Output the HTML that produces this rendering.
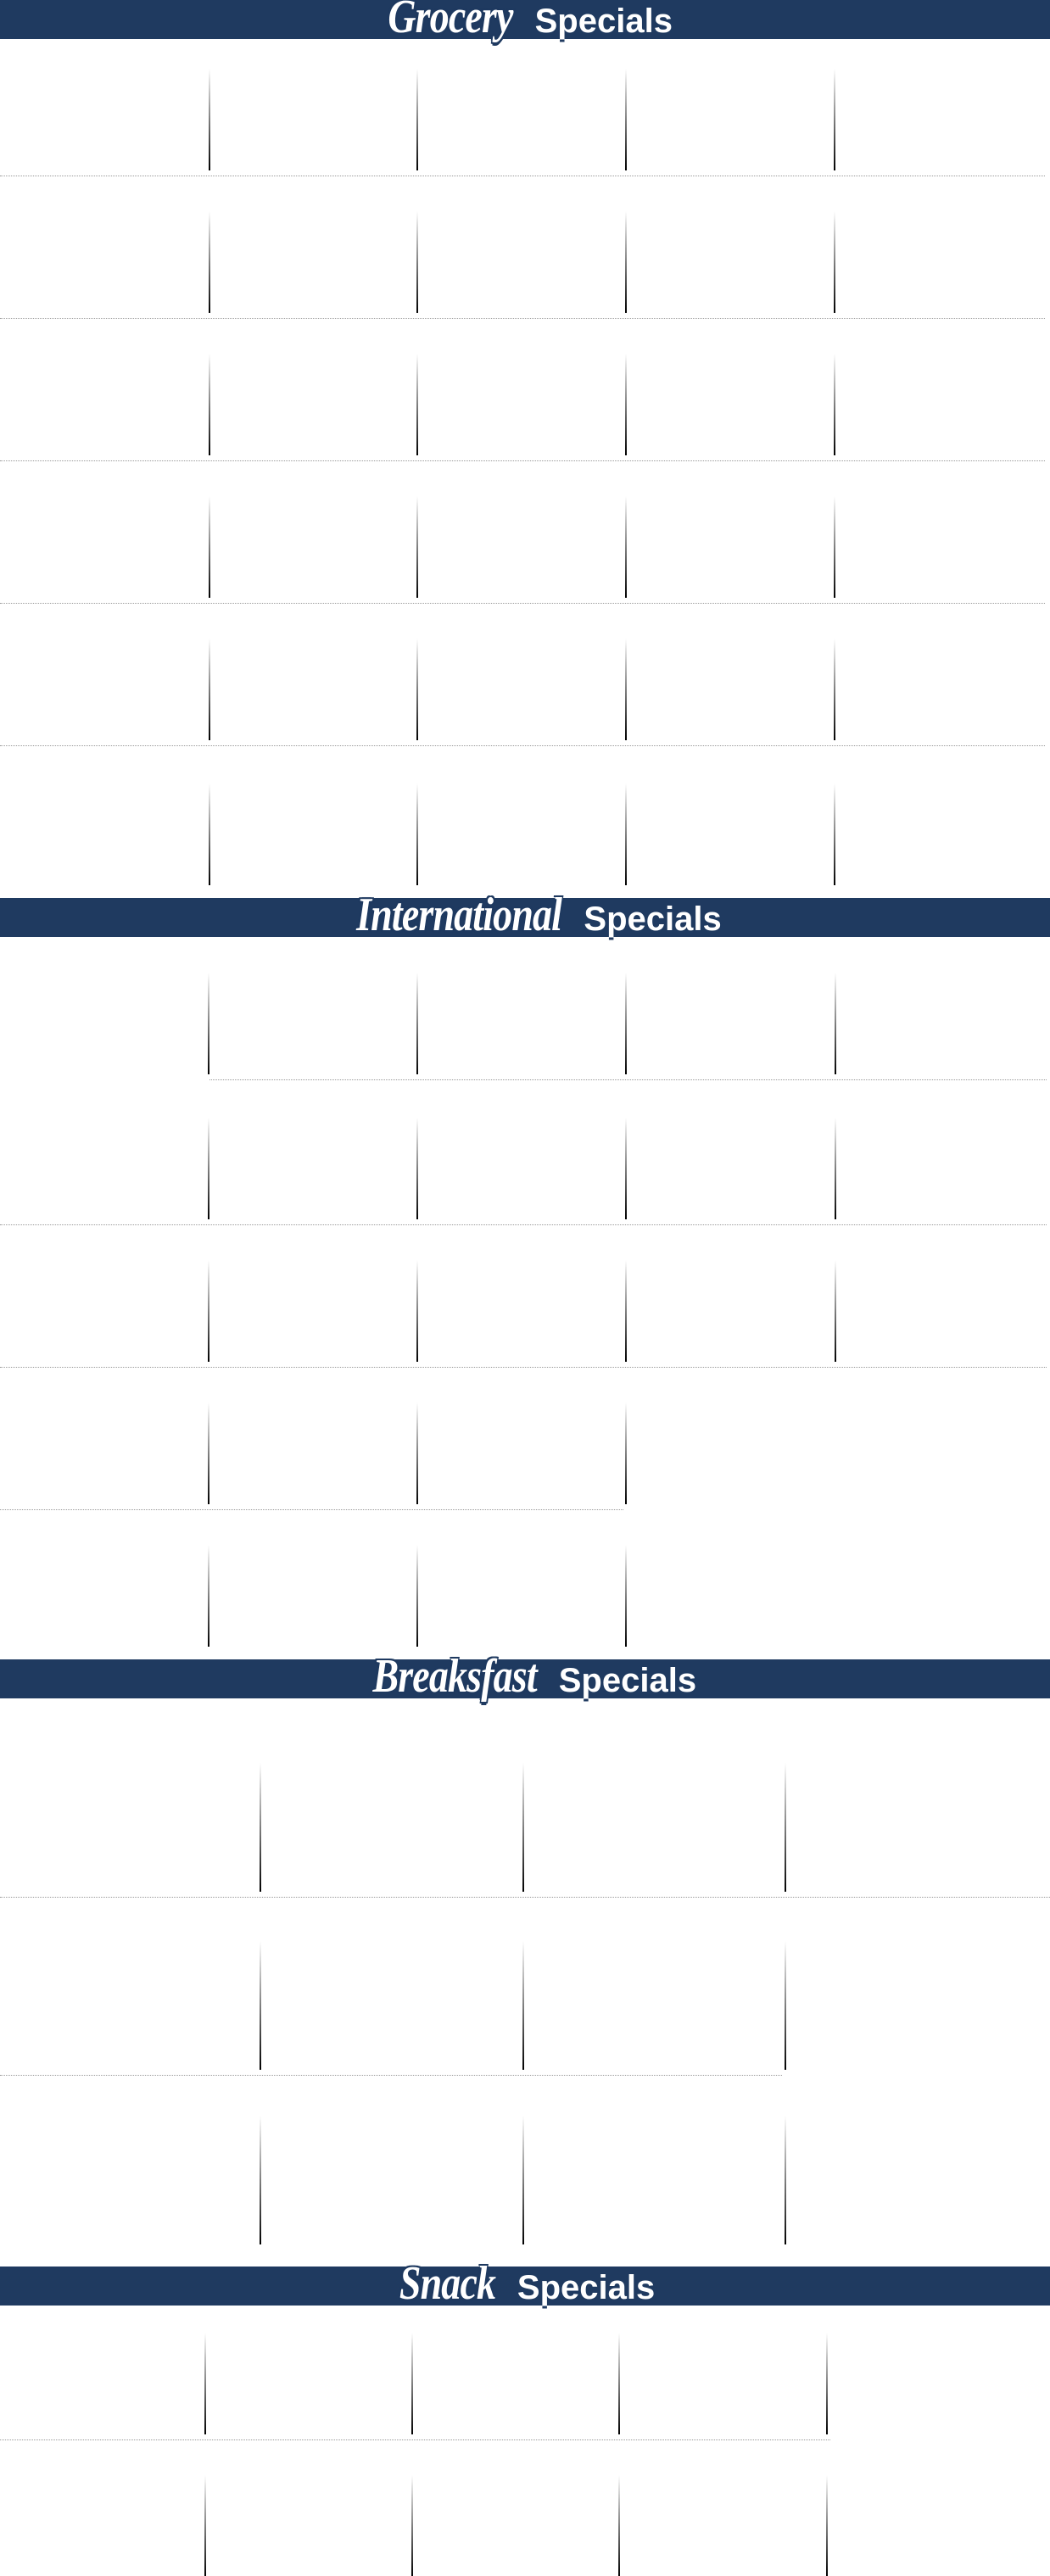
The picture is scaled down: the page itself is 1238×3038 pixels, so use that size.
<!DOCTYPE html>
<html><head><meta charset="utf-8">
<style>
html,body{margin:0;padding:0;background:#fff;}
#page{position:relative;width:1238px;height:3038px;overflow:hidden;background:#fff;}
.banner{position:absolute;left:0;width:1238px;height:46px;background:#1f3a60;}
.title{position:absolute;left:0;width:1238px;text-align:center;white-space:nowrap;}
.script{display:inline-block;font-family:"Liberation Serif",serif;font-style:italic;font-weight:bold;font-size:56px;color:#fff;
 transform:scaleX(0.82);transform-origin:right center;margin-left:-20px;
 text-shadow:0 0 3px #1f3a60,2px 2px 0 #1f3a60,-2px 2px 0 #1f3a60,2px -2px 0 #1f3a60,-2px -2px 0 #1f3a60,0 4px 0 #1f3a60;letter-spacing:-1px;}
.sans{font-family:"Liberation Sans",sans-serif;font-weight:bold;font-size:40px;color:#fff;margin-left:26px;
 text-shadow:0 3px 0 #1f3a60;}
.vline{position:absolute;width:2px;background:linear-gradient(to bottom,rgba(0,0,0,0),#000);}
.sep{position:absolute;height:0;border-top:1px dotted #999;}
</style></head>
<body>
<div id="page"></div>
<script>
// section data
const sectionNames = ["Grocery","International","Breaksfast","Snack"];
const bannerTops = [0,1059,1957,2673];
// rows per section: column count per row
const rowCols = [[5,5,5,5,5,5],[5,5,5,4,4],[4,4,4],[5,5]];
const rowTops = [[81,249,417,585,753,924],[1147,1318,1486,1654,1822],[2079,2289,2495],[2751,2919]];
const lineHeights = [120,120,152,120];
const colX = [[246,491,737,983],[245,491,737,984],[306,616,925],[241,485,729,974]];
const sepEnds = [[1232,1232,1232,1232,1232,null],[1234,1234,1234,735,null],[1238,922,null],[979,null]];
const sepStarts = [[0,0,0,0,0],[247,0,0,0],[0,0],[0]];

const page = document.getElementById('page');
sectionNames.forEach((name,s)=>{
  const b = document.createElement('div');
  b.className='banner';
  b.style.top = bannerTops[s]+'px';
  
  
  page.appendChild(b);
  const t = document.createElement('div');
  t.className='title';
  t.style.top = (bannerTops[s]-12)+'px';
  
  
  t.innerHTML = '<span class="script">'+name+'</span><span class="sans">Specials</span>';
  page.appendChild(t);
  rowCols[s].forEach((cols,r)=>{
    const top = rowTops[s][r];
    const nLines = cols-1;
    for(let c=0;c<nLines;c++){
      const v = document.createElement('div');
      v.className='vline';
      v.style.left = colX[s][c]+'px';
      v.style.top = top+'px';
      v.style.height = lineHeights[s]+'px';
      
      
      page.appendChild(v);
    }
    const end = sepEnds[s][r];
    if(end!==null && end!==undefined){
      const sp = document.createElement('div');
      sp.className='sep';
      const st = sepStarts[s][r]||0;
      sp.style.left = st+'px';
      sp.style.width = (end-st)+'px';
      sp.style.top = (top+lineHeights[s]+6)+'px';
      
      
      page.appendChild(sp);
    }
  });
});
</script>
</body></html>
